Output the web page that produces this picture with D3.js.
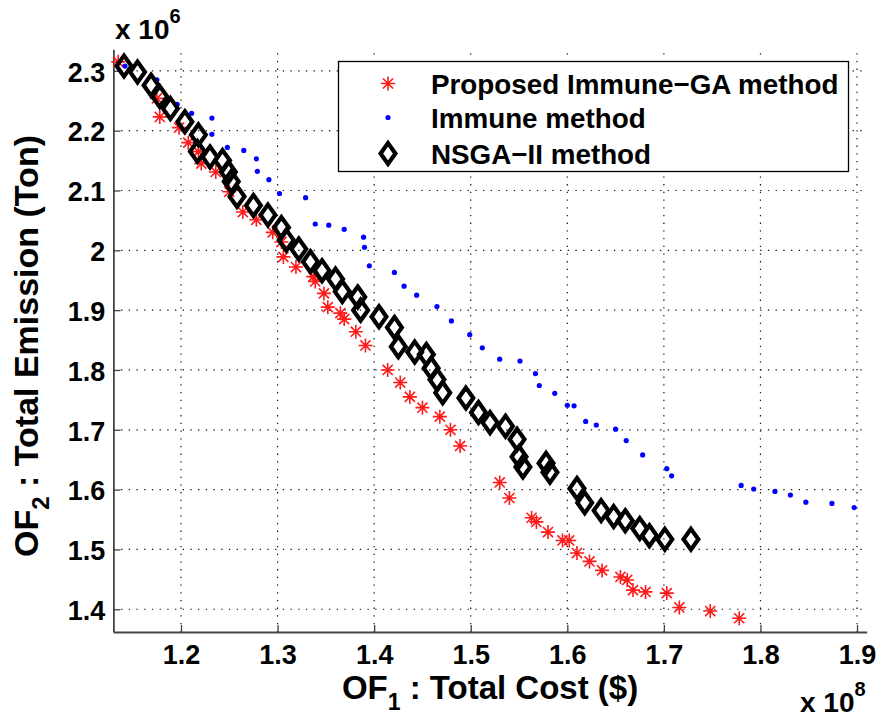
<!DOCTYPE html>
<html>
<head>
<meta charset="utf-8">
<script src="https://cdn.jsdelivr.net/npm/d3@7"></script>
<style>
  html, body { margin: 0; padding: 0; background: #fff; }
  svg { display: block; }
  text { font-family: "Liberation Sans", Arial, Helvetica, sans-serif; font-weight: bold; fill: #000; }
</style>
</head>
<body>
<svg id="chart" width="881" height="722"></svg>
<script>
// ---- Data (x in units of 1e8 $, y in units of 1e6 Ton) ----
const immuneGA_x = [1.135,1.175,1.178,1.198,1.2075,1.218,1.221,1.236,1.250,1.264,1.278,1.295,1.304,1.306,1.319,1.337,1.339,1.348,1.352,1.365,1.369,1.381,1.391,1.414,1.427,1.437,1.450,1.468,1.479,1.489,1.530,1.540,1.563,1.568,1.580,1.595,1.602,1.610,1.623,1.636,1.655,1.662,1.668,1.681,1.703,1.716,1.748,1.778];
const immuneGA_y = [2.315,2.254,2.223,2.205,2.180,2.165,2.145,2.131,2.098,2.064,2.051,2.030,2.014,1.989,1.972,1.956,1.948,1.928,1.905,1.895,1.885,1.864,1.841,1.800,1.779,1.755,1.737,1.722,1.700,1.673,1.612,1.586,1.553,1.546,1.529,1.515,1.515,1.494,1.480,1.465,1.454,1.449,1.432,1.429,1.427,1.403,1.397,1.385];

const immune_x = [1.142,1.175,1.196,1.211,1.232,1.232,1.248,1.265,1.278,1.279,1.291,1.302,1.329,1.339,1.353,1.369,1.389,1.390,1.395,1.421,1.431,1.444,1.465,1.480,1.499,1.512,1.530,1.551,1.567,1.571,1.587,1.600,1.607,1.619,1.630,1.650,1.661,1.678,1.703,1.708,1.780,1.793,1.815,1.831,1.847,1.874,1.897];
const immune_y = [2.308,2.285,2.244,2.229,2.221,2.194,2.172,2.167,2.153,2.132,2.118,2.095,2.088,2.044,2.042,2.035,2.022,2.005,1.974,1.963,1.940,1.925,1.906,1.882,1.859,1.837,1.818,1.815,1.794,1.774,1.761,1.741,1.740,1.714,1.708,1.701,1.682,1.658,1.635,1.623,1.607,1.601,1.597,1.591,1.579,1.577,1.570];

const nsga_x = [1.141,1.155,1.169,1.178,1.189,1.204,1.218,1.217,1.230,1.243,1.249,1.252,1.258,1.275,1.290,1.304,1.309,1.322,1.334,1.346,1.360,1.367,1.383,1.386,1.405,1.421,1.425,1.442,1.454,1.459,1.465,1.471,1.495,1.508,1.520,1.536,1.548,1.550,1.554,1.578,1.582,1.610,1.618,1.635,1.648,1.660,1.675,1.685,1.701,1.728];
const nsga_y = [2.308,2.298,2.276,2.257,2.237,2.215,2.193,2.165,2.156,2.150,2.131,2.115,2.090,2.075,2.059,2.038,2.017,2.002,1.981,1.966,1.952,1.931,1.922,1.900,1.889,1.871,1.839,1.830,1.826,1.803,1.784,1.762,1.753,1.729,1.712,1.706,1.684,1.655,1.638,1.644,1.629,1.602,1.578,1.565,1.555,1.548,1.535,1.523,1.517,1.517];

const xTicks = [1.2,1.3,1.4,1.5,1.6,1.7,1.8,1.9];
const xTickLabels = ["1.2","1.3","1.4","1.5","1.6","1.7","1.8","1.9"];
const yTicks = [1.4,1.5,1.6,1.7,1.8,1.9,2.0,2.1,2.2,2.3];
const yTickLabels = ["1.4","1.5","1.6","1.7","1.8","1.9","2","2.1","2.2","2.3"];

const seriesNames = ["Proposed Immune\u2212GA method","Immune method","NSGA\u2212II method"];
const xDomain = [1.13, 1.91];
const yDomain = [1.362, 2.336];

// ---- Layout ----
const svg = d3.select("#chart");
const L = 113.4, R = 866.7, T = 49.3, B = 632;
const x = d3.scaleLinear().domain(xDomain).range([L, R]);
const y = d3.scaleLinear().domain(yDomain).range([B, T]);

// grid
const grid = svg.append("g");
grid.selectAll("line.gx").data(xTicks).enter().append("line")
  .attr("x1", d => x(d)).attr("x2", d => x(d)).attr("y1", B).attr("y2", T)
  .attr("stroke", "#111").attr("stroke-width", 1.2).attr("stroke-dasharray", "1.3,6.4");
grid.selectAll("line.gy").data(yTicks).enter().append("line")
  .attr("y1", d => y(d)).attr("y2", d => y(d)).attr("x1", L).attr("x2", R)
  .attr("stroke", "#111").attr("stroke-width", 1.2).attr("stroke-dasharray", "1.3,6.4");

// axes via d3
const xAxis = d3.axisBottom(x).tickValues(xTicks).tickFormat((d,i) => xTickLabels[i]).tickSizeInner(-7).tickSizeOuter(0).tickPadding(14);
const yAxis = d3.axisLeft(y).tickValues(yTicks).tickFormat((d,i) => yTickLabels[i]).tickSizeInner(-7).tickSizeOuter(0).tickPadding(8);

const gx = svg.append("g").attr("transform", `translate(0,${B})`).call(xAxis);
const gy = svg.append("g").attr("transform", `translate(${L},0)`).call(yAxis);
[gx, gy].forEach(g => {
  g.select(".domain").attr("stroke", "#444").attr("stroke-width", 1.8);
  g.selectAll(".tick line").attr("stroke", "#444").attr("stroke-width", 1.3);
  g.selectAll(".tick text").attr("font-size", 27).attr("font-weight", "bold")
    .attr("font-family", "'Liberation Sans', Arial, sans-serif").attr("fill", "#000");
});
gx.selectAll(".tick text").attr("dy", "0.68em");
gy.selectAll(".tick text").attr("dy", "0.38em");

// markers
const starPath = (r) => {
  const d = r * 0.72;
  return `M${-r},0H${r}M0,${-r}V${r}M${-d},${-d}L${d},${d}M${-d},${d}L${d},${-d}`;
};
const diamondPath = (hw, hh) => `M0,${-hh}L${hw},0L0,${hh}L${-hw},0Z`;

const redData = immuneGA_x.map((v,i) => [v, immuneGA_y[i]]);
const blueData = immune_x.map((v,i) => [v, immune_y[i]]);
const blackData = nsga_x.map((v,i) => [v, nsga_y[i]]);

svg.append("g").selectAll("path").data(redData).enter().append("path")
  .attr("transform", d => `translate(${x(d[0])},${y(d[1])})`)
  .attr("d", starPath(7)).attr("stroke", "#ff1a1a").attr("stroke-width", 1.6).attr("fill", "none");

svg.append("g").selectAll("circle").data(blueData).enter().append("circle")
  .attr("cx", d => x(d[0])).attr("cy", d => y(d[1])).attr("r", 2.6).attr("fill", "#0000ff");

svg.append("g").selectAll("path").data(blackData).enter().append("path")
  .attr("transform", d => `translate(${x(d[0])},${y(d[1])})`)
  .attr("d", diamondPath(7.4, 10.4)).attr("stroke", "#000").attr("stroke-width", 4.2)
  .attr("stroke-linejoin", "miter").attr("fill", "none");

// legend
const lg = svg.append("g");
lg.append("rect").attr("x", 338.5).attr("y", 61.5).attr("width", 510).attr("height", 110)
  .attr("fill", "#fff").attr("stroke", "#000").attr("stroke-width", 1.3);
const rowsY = [83.5, 117.5, 153.5];
lg.append("path").attr("transform", `translate(388,${rowsY[0]})`).attr("d", starPath(7))
  .attr("stroke", "#ff1a1a").attr("stroke-width", 1.6).attr("fill", "none");
lg.append("circle").attr("cx", 388).attr("cy", rowsY[1]).attr("r", 2.6).attr("fill", "#0000ff");
lg.append("path").attr("transform", `translate(388,${rowsY[2]})`).attr("d", diamondPath(7.4, 10.4))
  .attr("stroke", "#000").attr("stroke-width", 4.2).attr("fill", "none");
lg.selectAll("text.leg").data(seriesNames).enter().append("text")
  .attr("x", 431).attr("y", (d,i) => rowsY[i]).attr("dy", "0.36em")
  .attr("font-size", 27.8).text(d => d);

// axis labels
const xl = svg.append("text").attr("x", (L + R) / 2).attr("y", 699)
  .attr("text-anchor", "middle").attr("font-size", 33);
xl.append("tspan").text("OF");
xl.append("tspan").attr("font-size", 23).attr("dy", 11).text("1");
xl.append("tspan").attr("dy", -11).text(" : Total Cost ($)");

const yl = svg.append("text").attr("transform", `translate(38,346) rotate(-90)`)
  .attr("text-anchor", "middle").attr("font-size", 34);
yl.append("tspan").text("OF");
yl.append("tspan").attr("font-size", 24).attr("dy", 11).text("2");
yl.append("tspan").attr("dy", -11).text(" : Total Emission (Ton)");

// exponent labels
const e6 = svg.append("text").attr("x", 115).attr("y", 39).attr("font-size", 28);
e6.append("tspan").text("x 10");
e6.append("tspan").attr("font-size", 20).attr("dy", -16).text("6");

const e8 = svg.append("text").attr("x", 800).attr("y", 712).attr("font-size", 28);
e8.append("tspan").text("x 10");
e8.append("tspan").attr("font-size", 20).attr("dy", -16).text("8");
</script>
</body>
</html>
